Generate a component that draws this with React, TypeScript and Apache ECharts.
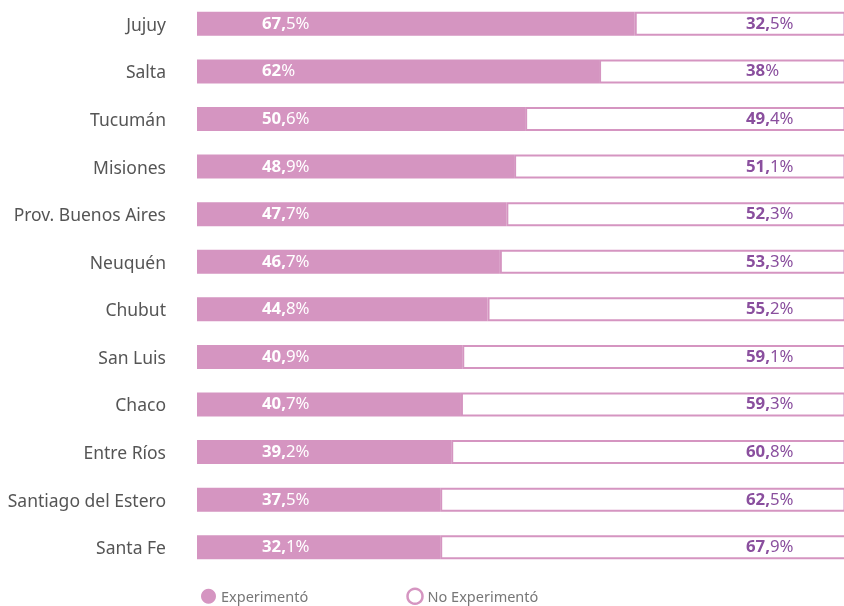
import React, { useEffect, useRef } from "react";
import * as echarts from "echarts";

const provincias = [
  "Jujuy",
  "Salta",
  "Tucumán",
  "Misiones",
  "Prov. Buenos Aires",
  "Neuquén",
  "Chubut",
  "San Luis",
  "Chaco",
  "Entre Ríos",
  "Santiago del Estero",
  "Santa Fe",
];

// Percentages as labelled
const experimento = [67.5, 62, 50.6, 48.9, 47.7, 46.7, 44.8, 40.9, 40.7, 39.2, 37.5, 32.1];
const noExperimento = [32.5, 38, 49.4, 51.1, 52.3, 53.3, 55.2, 59.1, 59.3, 60.8, 62.5, 67.9];
// Bar lengths as drawn in the reference (Santa Fe's bar is drawn at 37.5)
const experimentoBarra = [67.5, 62, 50.6, 48.9, 47.7, 46.7, 44.8, 40.9, 40.7, 39.2, 37.5, 37.5];

const PINK = "#d595c1";
const PURPLE = "#8a4f9e";
const FONT = "Noto Sans";

function fmt(v: number): string {
  const s = String(v).replace(".", ",");
  const i = s.indexOf(",");
  if (i < 0) return `{b|${s}}{n|%}`;
  return `{b|${s.slice(0, i + 1)}}{n|${s.slice(i + 1)}%}`;
}

export default function App() {
  const ref = useRef<HTMLDivElement>(null);
  useEffect(() => {
    if (!ref.current) return;
    const chart = echarts.init(ref.current, null, { renderer: "svg" });
    const rich = (color: string) => ({
      b: { fontFamily: FONT, fontSize: 16.8, fontWeight: "bold", color, padding: [0, 0, 3, 0] },
      n: { fontFamily: FONT, fontSize: 16.8, fontWeight: "normal", color, padding: [0, 0, 3, 0] },
    });
    chart.setOption({
      animation: false,
      grid: { left: 197, width: 648.5, top: 0, height: 571, containLabel: false },
      xAxis: {
        type: "value",
        min: 0,
        max: 100,
        show: false,
      },
      yAxis: [
        {
          type: "category",
          inverse: true,
          data: provincias,
          axisLine: { show: false },
          axisTick: { show: false },
          axisLabel: {
            color: "#555",
            fontSize: 17.5,
            fontFamily: FONT,
            margin: 31,
            padding: [0, 0, 3, 0],
          },
        },
        {
          type: "category",
          inverse: true,
          position: "left",
          data: experimento.map(fmt),
          z: 10,
          axisLine: { show: false },
          axisTick: { show: false },
          axisLabel: { inside: true, margin: 65, formatter: (v: string) => v, rich: rich("#fff") },
        },
        {
          type: "category",
          inverse: true,
          position: "left",
          data: noExperimento.map(fmt),
          z: 10,
          axisLine: { show: false },
          axisTick: { show: false },
          axisLabel: { inside: true, margin: 549, formatter: (v: string) => v, rich: rich(PURPLE) },
        },
      ],
      legend: {
        left: 201,
        top: 587.5,
        padding: 0,
        itemWidth: 15,
        itemHeight: 15,
        itemGap: 98,
        textStyle: { color: "#777", fontSize: 14.5, fontFamily: FONT },
        data: [
          { name: "Experimentó", icon: "circle" },
          {
            name: "No Experimentó",
            icon: "circle",
            itemStyle: { color: "#fff", borderColor: PINK, borderWidth: 2.5 },
          },
        ],
      },
      series: [
        {
          name: "Experimentó",
          type: "bar",
          stack: "t",
          barWidth: 24,
          data: experimentoBarra,
          itemStyle: { color: PINK },
        },
        {
          name: "No Experimentó",
          type: "bar",
          stack: "t",
          barWidth: 24,
          data: noExperimento,
          itemStyle: { color: "#fff", borderColor: PINK, borderWidth: 2 },
        },
      ],
    });
    return () => chart.dispose();
  }, []);
  return (
    <div
      style={{
        position: "fixed",
        left: 0,
        top: 0,
        width: 844,
        height: 606,
        overflow: "hidden",
      }}
    >
      <div ref={ref} style={{ width: 880, height: 606 }} />
    </div>
  );
}
